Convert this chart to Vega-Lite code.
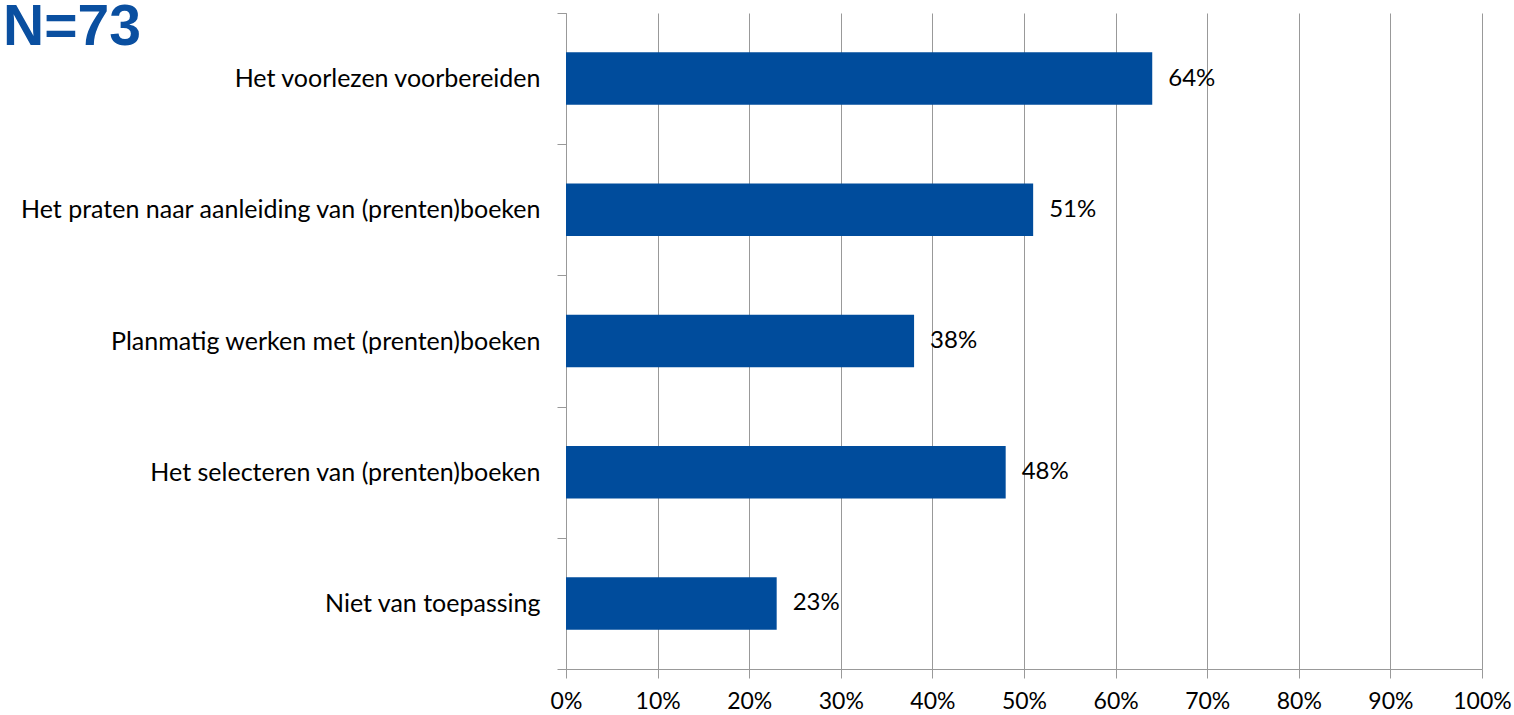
{
  "$schema": "https://vega.github.io/schema/vega-lite/v6.json",
  "width": 916,
  "height": 656,
  "autosize": {"type": "none"},
  "padding": {"left": 566, "top": 13, "right": 32, "bottom": 46},
  "background": "white",
  "title": {
    "text": "N=73",
    "anchor": "start",
    "frame": "group",
    "orient": "top",
    "offset": 0,
    "dx": -563,
    "dy": 101,
    "baseline": "alphabetic",
    "font": "Liberation Sans",
    "fontSize": 57,
    "fontWeight": "bold",
    "color": "#0A4FA0"
  },
  "data": {
    "values": [
      {"cat": "Het voorlezen voorbereiden", "pct": 0.64},
      {"cat": "Het praten naar aanleiding van (prenten)boeken", "pct": 0.51},
      {"cat": "Planmatig werken met (prenten)boeken", "pct": 0.38},
      {"cat": "Het selecteren van (prenten)boeken", "pct": 0.48},
      {"cat": "Niet van toepassing", "pct": 0.23}
    ]
  },
  "encoding": {
    "y": {
      "field": "cat",
      "type": "nominal",
      "sort": null,
      "scale": {"paddingInner": 0, "paddingOuter": 0},
      "axis": {
        "title": null,
        "tickBand": "extent",
        "tickSize": 9,
        "tickColor": "#999999",
        "domainColor": "#999999",
        "labelPadding": 17,
        "labelFont": "Lato",
        "labelFontSize": 25,
        "labelColor": "#000000",
        "labelLimit": 600,
        "grid": false
      }
    },
    "x": {
      "field": "pct",
      "type": "quantitative",
      "scale": {"domain": [0, 1], "nice": false},
      "axis": {
        "title": null,
        "format": ".0%",
        "values": [0, 0.1, 0.2, 0.3, 0.4, 0.5, 0.6, 0.7, 0.8, 0.9, 1],
        "labelOverlap": false,
        "grid": true,
        "gridColor": "#999999",
        "gridOpacity": 1,
        "tickSize": 9,
        "tickColor": "#999999",
        "domainColor": "#999999",
        "labelPadding": 12,
        "labelFont": "Lato",
        "labelFontSize": 23,
        "labelColor": "#000000",
        "labelFlush": false
      }
    }
  },
  "layer": [
    {"mark": {"type": "bar", "color": "#004C9C", "height": {"band": 0.4}}},
    {
      "mark": {"type": "text", "align": "left", "baseline": "middle", "dx": 16, "font": "Lato", "fontSize": 24, "color": "#000000"},
      "encoding": {"text": {"field": "pct", "type": "quantitative", "format": ".0%"}}
    }
  ],
  "config": {"view": {"stroke": null}}
}
